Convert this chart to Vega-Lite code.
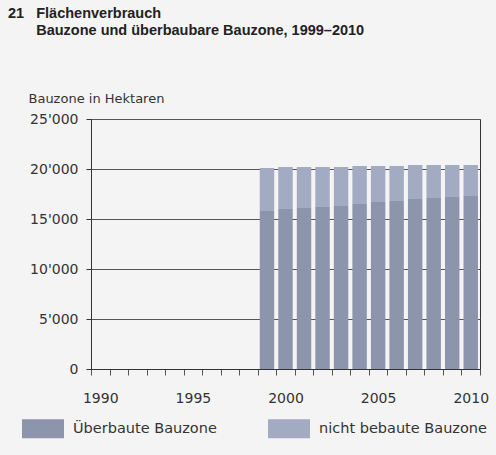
{
  "$schema": "https://vega.github.io/schema/vega-lite/v6.json",
  "width": 389,
  "height": 250,
  "autosize": {"type": "none"},
  "padding": {"left": 91, "top": 119, "right": 16, "bottom": 86},
  "background": "#f4f4f4",
  "title": {
    "text": ["21\u00a0\u00a0\u00a0Flächenverbrauch", "\u200b\u00a0\u00a0\u00a0\u00a0\u00a0\u00a0\u00a0Bauzone und überbaubare Bauzone, 1999–2010"],
    "anchor": "start",
    "frame": "group",
    "dx": -83,
    "dy": -54,
    "offset": 0,
    "font": "Liberation Sans",
    "fontSize": 14.5,
    "fontWeight": "bold",
    "color": "#222222",
    "lineHeight": 17
  },
  "config": {
    "view": {"stroke": "#333333", "strokeWidth": 1, "fill": "#f4f4f4"},
    "font": "DejaVu Sans"
  },
  "data": {
    "values": [
      {"jahr": 1999, "typ": "Überbaute Bauzone", "hektaren": 15800},
      {"jahr": 1999, "typ": "nicht bebaute Bauzone", "hektaren": 4300},
      {"jahr": 2000, "typ": "Überbaute Bauzone", "hektaren": 16000},
      {"jahr": 2000, "typ": "nicht bebaute Bauzone", "hektaren": 4200},
      {"jahr": 2001, "typ": "Überbaute Bauzone", "hektaren": 16100},
      {"jahr": 2001, "typ": "nicht bebaute Bauzone", "hektaren": 4100},
      {"jahr": 2002, "typ": "Überbaute Bauzone", "hektaren": 16200},
      {"jahr": 2002, "typ": "nicht bebaute Bauzone", "hektaren": 4000},
      {"jahr": 2003, "typ": "Überbaute Bauzone", "hektaren": 16300},
      {"jahr": 2003, "typ": "nicht bebaute Bauzone", "hektaren": 3900},
      {"jahr": 2004, "typ": "Überbaute Bauzone", "hektaren": 16500},
      {"jahr": 2004, "typ": "nicht bebaute Bauzone", "hektaren": 3800},
      {"jahr": 2005, "typ": "Überbaute Bauzone", "hektaren": 16700},
      {"jahr": 2005, "typ": "nicht bebaute Bauzone", "hektaren": 3600},
      {"jahr": 2006, "typ": "Überbaute Bauzone", "hektaren": 16800},
      {"jahr": 2006, "typ": "nicht bebaute Bauzone", "hektaren": 3500},
      {"jahr": 2007, "typ": "Überbaute Bauzone", "hektaren": 17000},
      {"jahr": 2007, "typ": "nicht bebaute Bauzone", "hektaren": 3400},
      {"jahr": 2008, "typ": "Überbaute Bauzone", "hektaren": 17100},
      {"jahr": 2008, "typ": "nicht bebaute Bauzone", "hektaren": 3300},
      {"jahr": 2009, "typ": "Überbaute Bauzone", "hektaren": 17200},
      {"jahr": 2009, "typ": "nicht bebaute Bauzone", "hektaren": 3200},
      {"jahr": 2010, "typ": "Überbaute Bauzone", "hektaren": 17300},
      {"jahr": 2010, "typ": "nicht bebaute Bauzone", "hektaren": 3100}
    ]
  },
  "mark": {"type": "bar", "width": {"band": 0.78}},
  "encoding": {
    "x": {
      "field": "jahr",
      "type": "ordinal",
      "scale": {
        "domain": [1990, 1991, 1992, 1993, 1994, 1995, 1996, 1997, 1998, 1999, 2000, 2001, 2002, 2003, 2004, 2005, 2006, 2007, 2008, 2009, 2010],
        "paddingInner": 0,
        "paddingOuter": 0
      },
      "axis": {
        "title": null,
        "labelAngle": 0,
        "labelExpr": "datum.value % 5 == 0 ? datum.value : ''",
        "tickBand": "extent",
        "tickSize": 6,
        "tickColor": "#555555",
        "domainColor": "#333333",
        "labelPadding": 16,
        "labelBaseline": "top",
        "labelFontSize": 14,
        "labelColor": "#333333",
        "labelFont": "DejaVu Sans"
      }
    },
    "y": {
      "field": "hektaren",
      "type": "quantitative",
      "stack": "zero",
      "scale": {"domain": [0, 25000], "nice": false},
      "axis": {
        "values": [0, 5000, 10000, 15000, 20000, 25000],
        "labelExpr": "replace(format(datum.value, ','), ',', \"'\")",
        "grid": true,
        "gridColor": "#555555",
        "gridWidth": 1,
        "gridOpacity": 1,
        "tickSize": 5,
        "tickColor": "#333333",
        "domainColor": "#333333",
        "labelPadding": 8,
        "labelFontSize": 14,
        "labelColor": "#333333",
        "labelFont": "DejaVu Sans",
        "title": "Bauzone in Hektaren",
        "titleAngle": 0,
        "titleAlign": "left",
        "titleBaseline": "alphabetic",
        "titleX": -63,
        "titleY": -17,
        "titleFont": "DejaVu Sans",
        "titleFontSize": 13,
        "titleFontWeight": "normal",
        "titleColor": "#333333"
      }
    },
    "color": {
      "field": "typ",
      "type": "nominal",
      "scale": {
        "domain": ["Überbaute Bauzone", "nicht bebaute Bauzone"],
        "range": ["#8d95ac", "#a2abc2"]
      },
      "legend": {
        "orient": "none",
        "legendX": -69,
        "legendY": 288.5,
        "direction": "horizontal",
        "title": null,
        "symbolType": "M-1,-0.45H1V0.45H-1Z",
        "symbolSize": 1764,
        "symbolStrokeWidth": 0,
        "symbolOpacity": 1,
        "labelFontSize": 14.5,
        "labelFont": "DejaVu Sans",
        "labelColor": "#333333",
        "labelOffset": 9,
        "labelLimit": 400,
        "columnPadding": 51
      }
    },
    "order": {"field": "typ", "sort": "descending"}
  }
}
